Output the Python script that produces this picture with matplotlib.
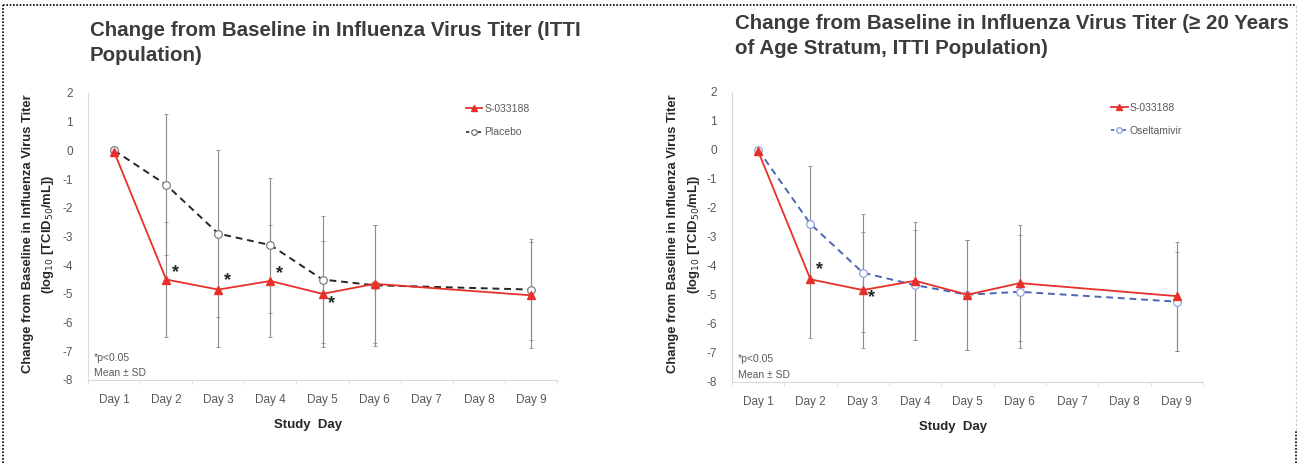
import numpy as np
import matplotlib.pyplot as plt
from matplotlib.lines import Line2D

# ---- data ----
days = ['Day 1', 'Day 2', 'Day 3', 'Day 4', 'Day 5', 'Day 6', 'Day 7', 'Day 8', 'Day 9']
obs_idx = [0, 1, 2, 3, 4, 5, 8]   # days with measurements

# panel 1: ITTI population
s_mean_a = [-0.05, -4.5, -4.85, -4.55, -5.0, -4.65, -5.05]
s_sd_a = [0.0, 2.0, 2.0, 1.95, 1.85, 2.05, 1.85]
plc_mean = [0.0, -1.2, -2.9, -3.3, -4.5, -4.7, -4.85]
plc_sd = [0.0, 2.45, 2.9, 2.35, 2.2, 2.1, 1.75]
star_idx_a = [1, 2, 3, 4]
star_y_a = [-4.25, -4.55, -4.3, -5.35]

# panel 2: >= 20 years of age stratum
s_mean_b = [-0.05, -4.47, -4.84, -4.52, -5.0, -4.6, -5.05]
s_sd_b = [0.0, 2.03, 2.0, 2.04, 1.9, 2.0, 1.88]
osl_mean = [0.0, -2.56, -4.24, -4.67, -5.0, -4.9, -5.24]
osl_sd = [0.0, 2.0, 2.04, 1.9, 1.9, 1.95, 1.7]
star_idx_b = [1, 2]
star_y_b = [-4.15, -5.1]

titles = ['Change from Baseline in Influenza Virus Titer (ITTI\nPopulation)',
          'Change from Baseline in Influenza Virus Titer (\u2265 20 Years\nof Age Stratum, ITTI Population)']
yticks = [2, 1, 0, -1, -2, -3, -4, -5, -6, -7, -8]

RED = '#E8302A'
GRAY_TXT = '#595959'
TITLE_C = '#3C3C3C'

plt.rcParams['font.family'] = ['Liberation Sans', 'DejaVu Sans']

fig = plt.figure(figsize=(13.08, 4.63), dpi=100)


def draw_panel(ax, s_mean, s_sd, c_mean, c_sd, c_label, c_color, c_edge,
               star_idx, star_y):
    x = np.array(obs_idx)
    # error bars (both series)
    ax.errorbar(x, c_mean, yerr=c_sd, fmt='none', ecolor='#8C8C8C',
                elinewidth=0.8, capsize=1.5, capthick=0.6, zorder=1)
    ax.errorbar(x, s_mean, yerr=s_sd, fmt='none', ecolor='#8C8C8C',
                elinewidth=0.8, capsize=1.5, capthick=0.6, zorder=1)
    ax.plot(x, c_mean, linestyle=(0, (3.5, 2.5)), color=c_color, lw=1.4,
            marker='o', ms=5.5, mfc='white', mec=c_edge, mew=0.9,
            label=c_label, zorder=2)
    ax.plot(x, s_mean, '-', color=RED, lw=1.3, marker='^', ms=5.5,
            mfc=RED, mec=RED, label='S-033188', zorder=3)
    for i, yv in zip(star_idx, star_y):
        ax.text(i + 0.17, yv, '*', fontsize=13, fontweight='bold',
                color='#1E2A24', ha='center', va='center', zorder=4)

    ax.set_xlim(-0.5, 8.5)
    ax.set_ylim(-8, 2)
    ax.set_xticks(range(len(days)))
    ax.set_xticklabels(days, fontsize=8.5, color=GRAY_TXT)
    ax.set_xticks(np.arange(-0.5, 9.0, 1.0), minor=True)
    ax.set_yticks(yticks)
    ax.set_yticklabels([str(v) for v in yticks], fontsize=8.5, color=GRAY_TXT)
    ax.tick_params(axis='x', which='major', length=0, pad=10)
    ax.tick_params(axis='x', which='minor', length=3, color='#D9D9D9')
    ax.tick_params(axis='y', length=0, pad=11)
    for side in ['top', 'right']:
        ax.spines[side].set_visible(False)
    for side in ['left', 'bottom']:
        ax.spines[side].set_color('#D9D9D9')
        ax.spines[side].set_linewidth(0.8)

    ax.set_xlabel('Study  Day', fontsize=9.5, fontweight='bold', color='#262626')
    ax.xaxis.set_label_coords(0.469, -0.135)

    ax.text(0.012, 0.077, '*p<0.05', transform=ax.transAxes, fontsize=7.5,
            color=GRAY_TXT, va='center')
    ax.text(0.012, 0.024, 'Mean \u00b1 SD', transform=ax.transAxes, fontsize=7.5,
            color=GRAY_TXT, va='center')

    handles = [Line2D([], [], color=RED, lw=1.3, marker='^', ms=4, mfc=RED, mec=RED),
               Line2D([], [], color=c_color, lw=1.2, linestyle=(0, (2, 1.5)),
                      marker='o', ms=4, mfc='white', mec=c_edge)]
    ax.legend(handles, ['S-033188', c_label], loc='upper left',
              bbox_to_anchor=(0.785, 0.995), frameon=False, fontsize=7.5,
              handlelength=1.6, handletextpad=0.2, labelspacing=1.3,
              labelcolor=GRAY_TXT)


ax1 = fig.add_axes([0.0673, 0.1793, 0.3586, 0.6199])
draw_panel(ax1, s_mean_a, s_sd_a, plc_mean, plc_sd, 'Placebo', '#262626',
           '#7F7F7F', star_idx_a, star_y_a)
ax2 = fig.add_axes([0.5596, 0.1756, 0.3601, 0.6263])
draw_panel(ax2, s_mean_b, s_sd_b, osl_mean, osl_sd, 'Oseltamivir', '#4A66B5',
           '#8EA6DE', star_idx_b, star_y_b)

ylab1 = 'Change from Baseline in Influenza Virus Titer'
ylab2 = r'(log$_{10}$ [TCID$_{50}$/mL])'
for xl1, xl2 in [(28, 48), (673, 694)]:
    fig.text(xl1 / 1308, 1 - 234 / 463, ylab1, rotation=90, fontsize=9.4,
             fontweight='bold', color='#262626', ha='center', va='center')
    fig.text(xl2 / 1308, 1 - 234 / 463, ylab2, rotation=90, fontsize=9.4,
             fontweight='bold', color='#262626', ha='center', va='center')

fig.text(90 / 1308, 1 - 43 / 463, titles[0], fontsize=14.8, fontweight='bold',
         color=TITLE_C, ha='left', va='center', linespacing=1.38)
fig.text(735 / 1308, 1 - 36 / 463, titles[1], fontsize=14.8, fontweight='bold',
         color=TITLE_C, ha='left', va='center', linespacing=1.38)

# dotted frame of the screenshot
fr = dict(transform=fig.transFigure, lw=1.2, linestyle=(0, (1, 1)), zorder=10)
fig.add_artist(Line2D([3 / 1308, 1296 / 1308], [1 - 5 / 463, 1 - 5 / 463], color='black', **fr))
fig.add_artist(Line2D([3 / 1308, 3 / 1308], [0, 1 - 5 / 463], color='black', **fr))
fig.add_artist(Line2D([1296 / 1308, 1296 / 1308], [1 - 430 / 463, 1 - 5 / 463], color='#C8C8C8',
                      transform=fig.transFigure, lw=0.8, linestyle=(0, (2, 2))))
fig.add_artist(Line2D([1296 / 1308, 1296 / 1308], [0, 1 - 430 / 463], color='black', **fr))

fig.savefig('out.png', dpi=100, facecolor='white')
